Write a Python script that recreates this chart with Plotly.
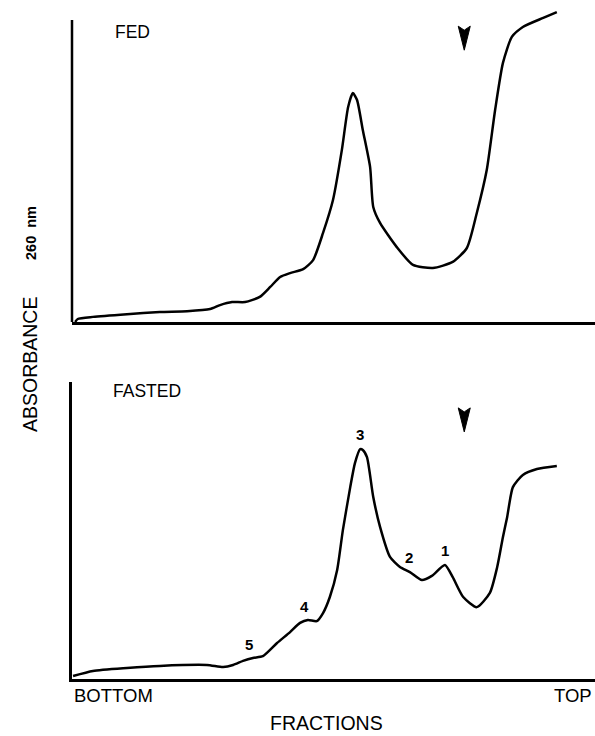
import numpy as np
import plotly.graph_objects as go

# ---------------- data ----------------
fraction_fed = [0.6, 1.1, 4.0, 10.5, 16.8, 22.0, 26.4, 28.3, 30.6, 33.1, 35.9, 37.9, 39.8,
                41.7, 44.2, 46.1, 48.0, 49.9, 51.6, 52.8, 53.7, 54.5, 55.6, 57.0, 57.6,
                58.9, 62.1, 65.2, 69.0, 72.8, 75.5, 77.4, 79.3, 80.9, 82.4, 84.1, 86.2,
                90.1, 92.7]
absorbance_fed = [0.0, 0.010, 0.017, 0.026, 0.033, 0.036, 0.043, 0.056, 0.066, 0.066, 0.083,
                  0.116, 0.149, 0.162, 0.175, 0.205, 0.295, 0.404, 0.570, 0.712, 0.758,
                  0.735, 0.636, 0.513, 0.381, 0.328, 0.248, 0.189, 0.179, 0.199, 0.245,
                  0.361, 0.503, 0.702, 0.858, 0.944, 0.977, 1.007, 1.026]

fraction_fasted = [0.2, 4.0, 10.5, 16.8, 25.8, 28.9, 30.8, 32.7, 34.6, 36.5, 39.2, 41.7,
                   43.6, 45.1, 46.8, 48.0, 49.3, 50.7, 51.8, 53.2, 54.1, 55.1, 55.6, 56.4,
                   57.6, 58.9, 60.8, 62.7, 64.6, 66.9, 68.8, 71.3, 72.8, 74.8, 77.4, 79.9,
                   81.3, 82.4, 83.2, 84.3, 86.2, 88.9, 92.7]
absorbance_fasted = [0.010, 0.027, 0.037, 0.044, 0.047, 0.040, 0.047, 0.061, 0.071, 0.077,
                     0.121, 0.158, 0.189, 0.199, 0.195, 0.222, 0.276, 0.367, 0.502, 0.646,
                     0.727, 0.774, 0.771, 0.747, 0.613, 0.512, 0.411, 0.377, 0.360, 0.333,
                     0.347, 0.384, 0.343, 0.276, 0.242, 0.290, 0.377, 0.478, 0.545, 0.646,
                     0.687, 0.707, 0.717]

peak_labels = ["5", "4", "3", "2", "1"]
peak_fraction = [33.8, 44.4, 55.1, 64.4, 71.3]
arrow_fraction = 75.0
arrow_tip = [0.90, 0.832]          # top panel, bottom panel (absorbance units)
panel_titles = ["FED", "FASTED"]
x_end_labels = ["BOTTOM", "TOP"]
x_title = "FRACTIONS"
y_title = "ABSORBANCE"
y_unit = "260  nm"

# ---------------- layout geometry ----------------
W, H = 595, 736
ML, MR, MT = 72, 0, 0
MB = H - 679                 # bottom axis at page y = 679
PW, PH = W - ML - MR, H - MT - MB


def px(xp):
    return (xp - ML) / PW


def py(yp):
    return (H - MB - yp) / PH


FONT = "Liberation Sans, Arial, sans-serif"
LW = 2.5

top_dom = [py(322), 1.0]
bot_dom = [0.0, py(382)]
top_range = [0, (322 - MT) / 302]

fig = go.Figure()
fig.add_trace(go.Scatter(x=fraction_fed, y=absorbance_fed, mode="lines",
                         line=dict(color="black", width=LW, shape="spline", smoothing=0.6),
                         xaxis="x", yaxis="y", showlegend=False, hoverinfo="skip"))
fig.add_trace(go.Scatter(x=fraction_fasted, y=absorbance_fasted, mode="lines",
                         line=dict(color="black", width=LW, shape="spline", smoothing=0.6),
                         xaxis="x2", yaxis="y2", showlegend=False, hoverinfo="skip"))

xcommon = dict(range=[0, 100], showline=True, linewidth=LW, linecolor="black",
               showticklabels=False, showgrid=False, zeroline=False, ticks="")
ycommon = dict(showgrid=False, zeroline=False, showticklabels=False, ticks="")

fig.update_layout(
    width=W, height=H, margin=dict(l=ML, r=MR, t=MT, b=MB),
    paper_bgcolor="white", plot_bgcolor="white",
    xaxis=dict(domain=[0, 1], anchor="y", **xcommon),
    yaxis=dict(domain=top_dom, anchor="x", range=top_range, showline=False, **ycommon),
    xaxis2=dict(domain=[0, 1], anchor="y2", **xcommon),
    yaxis2=dict(domain=bot_dom, anchor="x2", range=[0, 1], showline=True,
                linewidth=LW, linecolor="black", **ycommon),
)

# top panel y axis line (stops below the curve end)
fig.add_shape(type="line", xref="x domain", yref="y", x0=0, x1=0, y0=0, y1=1,
              line=dict(color="black", width=LW))

# arrows
arrow_path = "M0,0 L-6,24 L0,20 L6,24 Z"
for xr, yr, tip in [("x", "y", arrow_tip[0]), ("x2", "y2", arrow_tip[1])]:
    fig.add_shape(type="path", xref=xr, yref=yr, xsizemode="pixel", ysizemode="pixel",
                  xanchor=arrow_fraction, yanchor=tip, path=arrow_path,
                  fillcolor="black", line=dict(color="black", width=1))

ann = []
# panel titles
ann.append(dict(text=panel_titles[0], x=px(113), y=py(32), xanchor="left", yanchor="middle"))
ann.append(dict(text=panel_titles[1], x=px(111), y=py(391), xanchor="left", yanchor="middle"))
for a in ann:
    a.update(xref="paper", yref="paper", showarrow=False,
             font=dict(family=FONT, size=17.5, color="black"))

# peak labels
peak_y = np.interp(peak_fraction, fraction_fasted, absorbance_fasted)
for lab, xv, yv in zip(peak_labels, peak_fraction, peak_y):
    ann.append(dict(text="<b>%s</b>" % lab, x=xv, y=float(yv), xref="x2", yref="y2",
                    xanchor="center", yanchor="bottom", yshift=4, showarrow=False,
                    font=dict(family=FONT, size=15, color="black")))

# x end labels and title
ann.append(dict(text=x_end_labels[0], x=px(72), y=py(695), xref="paper", yref="paper",
                xanchor="left", yanchor="middle", showarrow=False,
                font=dict(family=FONT, size=18.5, color="black")))
ann.append(dict(text=x_end_labels[1], x=px(594), y=py(695), xref="paper", yref="paper",
                xanchor="right", yanchor="middle", showarrow=False,
                font=dict(family=FONT, size=18.5, color="black")))
ann.append(dict(text=x_title, x=px(326), y=py(723), xref="paper", yref="paper",
                xanchor="center", yanchor="middle", showarrow=False,
                font=dict(family=FONT, size=19.5, color="black")))

# y title
ann.append(dict(text=y_title, x=px(30), y=py(365), xref="paper", yref="paper",
                xanchor="center", yanchor="middle", textangle=-90, showarrow=False,
                font=dict(family=FONT, size=19.5, color="black")))
ann.append(dict(text="<b>%s</b>" % y_unit, x=px(31), y=py(233), xref="paper", yref="paper",
                xanchor="center", yanchor="middle", textangle=-90, showarrow=False,
                font=dict(family=FONT, size=14.5, color="black")))

fig.update_layout(annotations=ann)
fig.write_html(
    "out.html",
    config={"displayModeBar": False},
    post_script="document.body.style.margin='0';"
                "document.documentElement.style.overflow='hidden';",
)
